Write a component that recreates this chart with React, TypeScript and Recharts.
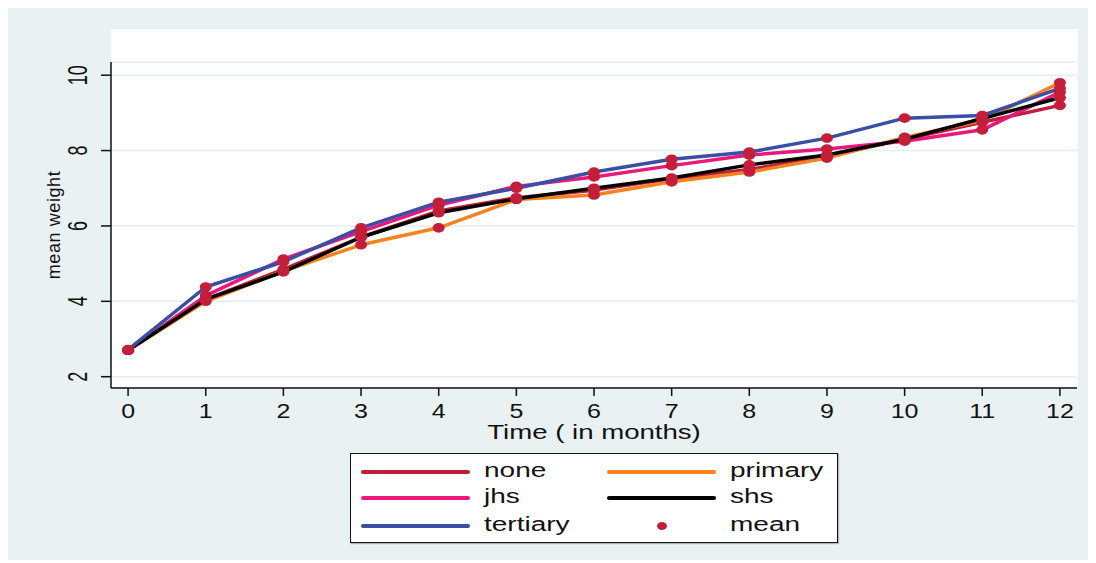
import { ComposedChart, Line, XAxis, YAxis, CartesianGrid } from 'recharts'

const months = [0, 1, 2, 3, 4, 5, 6, 7, 8, 9, 10, 11, 12]
const none = [2.7, 4.05, 4.85, 5.7, 6.4, 6.75, 6.95, 7.25, 7.5, 7.85, 8.3, 8.75, 9.2]
const primary = [2.7, 4.0, 4.8, 5.5, 5.95, 6.7, 6.82, 7.17, 7.43, 7.8, 8.35, 8.8, 9.8]
const jhs = [2.7, 4.15, 5.12, 5.85, 6.55, 7.05, 7.3, 7.6, 7.88, 8.04, 8.25, 8.55, 9.55]
const shs = [2.7, 4.05, 4.78, 5.7, 6.35, 6.72, 7.0, 7.27, 7.62, 7.88, 8.3, 8.85, 9.4]
const tertiary = [2.72, 4.38, 5.05, 5.95, 6.63, 7.0, 7.43, 7.77, 7.96, 8.33, 8.86, 8.93, 9.65]
const yTicks = [2, 4, 6, 8, 10]

const SERIES = [
  { key: 'none', color: '#BE1E3C' },
  { key: 'primary', color: '#F58220' },
  { key: 'jhs', color: '#E8197A' },
  { key: 'shs', color: '#000000' },
  { key: 'tertiary', color: '#3A4EA3' },
]
const MEAN_COLOR = '#C41E3A'
const BG = '#EAF1F3'
const FONT = '"Liberation Sans", Arial, sans-serif'

const data = months.map((m, i) => ({
  month: m,
  none: none[i],
  primary: primary[i],
  jhs: jhs[i],
  shs: shs[i],
  tertiary: tertiary[i],
}))

function MeanDot(props: any) {
  const { cx, cy, index } = props
  if (cx == null || cy == null) return <g key={index} />
  return <ellipse key={index} cx={cx} cy={cy} rx={6} ry={4.8} fill={MEAN_COLOR} />
}

function XTick(props: any) {
  const { x, payload } = props
  return (
    <text
      transform={`translate(${x},410) scale(1.25,1)`}
      textAnchor="middle"
      fontFamily={FONT}
      fontSize={20}
      fill="#111"
    >
      {payload.value}
    </text>
  )
}

function YTick(props: any) {
  const { y, payload } = props
  return (
    <text
      transform={`translate(79,${y}) rotate(-90) scale(1,1.55)`}
      textAnchor="middle"
      fontFamily={FONT}
      fontSize={18}
      fill="#111"
    >
      {payload.value}
    </text>
  )
}

const legendRows = [
  [{ label: 'none', color: SERIES[0].color }, { label: 'primary', color: SERIES[1].color }],
  [{ label: 'jhs', color: SERIES[2].color }, { label: 'shs', color: SERIES[3].color }],
  [{ label: 'tertiary', color: SERIES[4].color }, { label: 'mean', color: null }],
]
const rowCenters = [18, 44, 72]

function Legend() {
  return (
    <div
      style={{
        position: 'absolute',
        left: 342,
        top: 445,
        width: 486,
        height: 88,
        background: '#fff',
        border: '1.5px solid #111',
        boxShadow: '1px 1px 1px rgba(0,0,0,0.25)',
        fontFamily: FONT,
      }}
    >
      {legendRows.map((row, r) =>
        row.map((item, c) => {
          const lineLeft = c === 0 ? 10 : 256
          const textLeft = c === 0 ? 133 : 379
          const cy = rowCenters[r]
          return (
            <div key={`${r}-${c}`}>
              {item.color ? (
                <div
                  style={{
                    position: 'absolute',
                    left: lineLeft,
                    top: cy - 2,
                    width: 109,
                    height: 4,
                    borderRadius: 2,
                    background: item.color,
                  }}
                />
              ) : (
                <div
                  style={{
                    position: 'absolute',
                    left: lineLeft + 50,
                    top: cy - 4,
                    width: 10,
                    height: 8,
                    borderRadius: '50%',
                    background: MEAN_COLOR,
                  }}
                />
              )}
              <span
                style={{
                  position: 'absolute',
                  left: textLeft,
                  top: cy - 12,
                  fontSize: 20,
                  lineHeight: '20px',
                  color: '#111',
                  display: 'inline-block',
                  transform: 'scaleX(1.4)',
                  transformOrigin: 'left center',
                  whiteSpace: 'nowrap',
                }}
              >
                {item.label}
              </span>
            </div>
          )
        })
      )}
    </div>
  )
}

export default function App() {
  return (
    <div style={{ position: 'relative', width: 1082, height: 552, background: BG }}>
      <div style={{ position: 'absolute', left: 103, top: 21, width: 967, height: 359, background: '#fff' }} />
      <div style={{ position: 'absolute', left: 0, top: 0 }}>
        <ComposedChart
          width={1082}
          height={552}
          data={data}
          margin={{ top: 54, right: 13, left: 0, bottom: 112 }}
        >
          <CartesianGrid vertical={false} stroke="#E4EDF0" strokeWidth={1.5} />
          <XAxis
            type="number"
            dataKey="month"
            domain={[-0.22, 12.22]}
            ticks={months}
            interval={0}
            height={60}
            tick={<XTick />}
            tickSize={8}
            axisLine={{ stroke: '#111', strokeWidth: 1.5 }}
            tickLine={{ stroke: '#111', strokeWidth: 1.5 }}
            label={{
              content: () => (
                <text
                  transform="translate(586,431) scale(1.38,1)"
                  textAnchor="middle"
                  fontFamily={FONT}
                  fontSize={20}
                  fill="#111"
                >
                  Time ( in months)
                </text>
              ),
            }}
          />
          <YAxis
            type="number"
            domain={[1.7, 10.35]}
            ticks={yTicks}
            interval={0}
            width={103}
            tick={<YTick />}
            tickSize={10}
            axisLine={{ stroke: '#111', strokeWidth: 1.5 }}
            tickLine={{ stroke: '#111', strokeWidth: 1.5 }}
            label={{
              content: () => (
                <text
                  transform="translate(52,217) rotate(-90)"
                  textAnchor="middle"
                  fontFamily={FONT}
                  fontSize={18}
                  letterSpacing={0.6}
                  fill="#111"
                >
                  mean weight
                </text>
              ),
            }}
          />
          {SERIES.map((s) => (
            <Line
              key={s.key}
              type="linear"
              dataKey={s.key}
              stroke={s.color}
              strokeWidth={3.5}
              strokeLinejoin="round"
              dot={false}
              activeDot={false}
              isAnimationActive={false}
            />
          ))}
          {SERIES.map((s) => (
            <Line
              key={`${s.key}-mean`}
              type="linear"
              dataKey={s.key}
              stroke="none"
              dot={MeanDot}
              activeDot={false}
              legendType="none"
              isAnimationActive={false}
            />
          ))}
        </ComposedChart>
      </div>
      <Legend />
    </div>
  )
}
